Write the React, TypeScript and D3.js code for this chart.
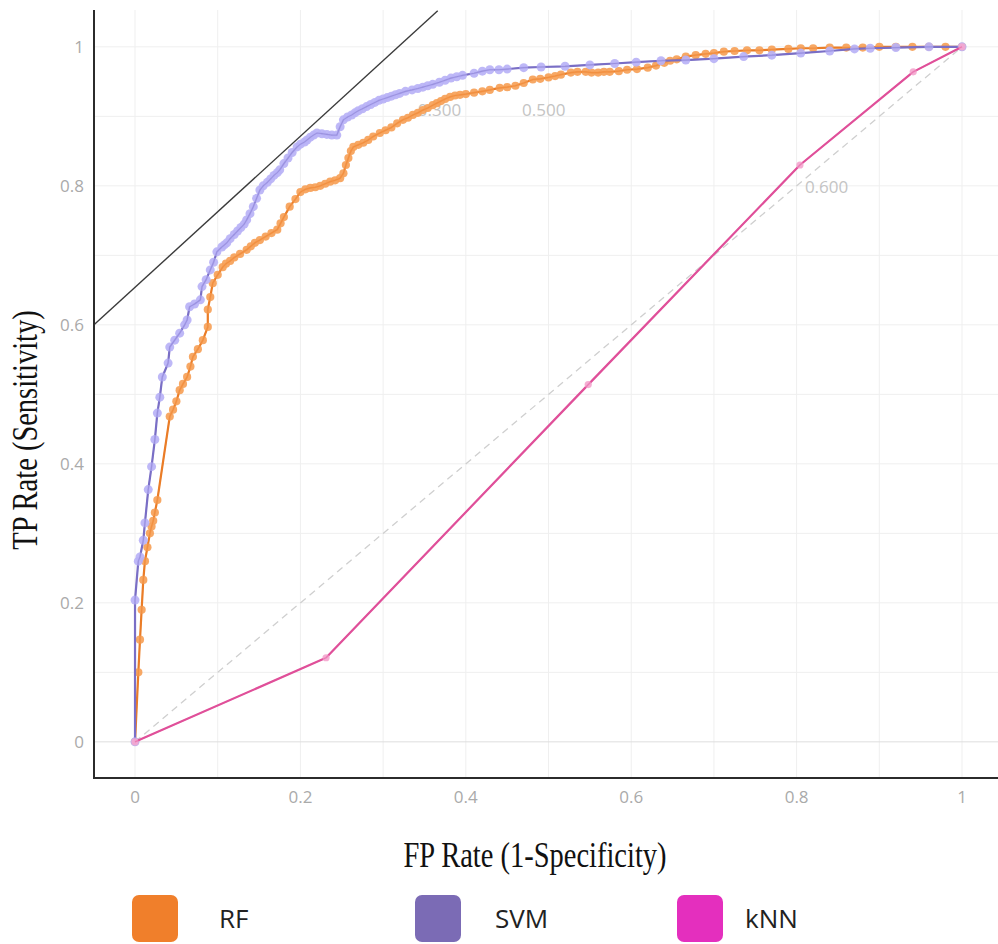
import React from "react";
import * as d3 from "d3";

// ---------- data ----------
const rfPoints: [number, number][] = [
  [0, 0], [0.004, 0.1], [0.006, 0.147], [0.008, 0.19], [0.01, 0.233], [0.012, 0.26],
  [0.015, 0.28], [0.018, 0.3], [0.02, 0.31], [0.022, 0.318], [0.024, 0.33], [0.027, 0.348],
  [0.042, 0.468], [0.046, 0.478], [0.05, 0.49], [0.054, 0.506], [0.058, 0.515], [0.063, 0.525],
  [0.067, 0.54], [0.07, 0.554], [0.076, 0.565], [0.082, 0.578], [0.088, 0.597],
  [0.088, 0.622], [0.091, 0.64], [0.094, 0.66], [0.1, 0.672], [0.106, 0.683],
  [0.11, 0.688], [0.115, 0.692], [0.12, 0.697], [0.127, 0.702], [0.135, 0.708],
  [0.14, 0.713], [0.145, 0.718], [0.151, 0.722], [0.158, 0.727], [0.165, 0.732],
  [0.172, 0.737], [0.176, 0.746], [0.18, 0.755], [0.187, 0.77], [0.194, 0.781],
  [0.2, 0.791], [0.206, 0.795], [0.212, 0.797], [0.218, 0.798], [0.224, 0.8],
  [0.23, 0.803], [0.236, 0.806], [0.242, 0.808], [0.248, 0.811], [0.252, 0.818],
  [0.255, 0.83], [0.258, 0.84], [0.261, 0.85], [0.264, 0.856], [0.27, 0.859],
  [0.276, 0.862], [0.282, 0.866], [0.288, 0.871], [0.296, 0.876], [0.303, 0.88],
  [0.31, 0.884], [0.317, 0.89], [0.324, 0.895], [0.33, 0.898], [0.336, 0.902],
  [0.342, 0.905], [0.348, 0.909], [0.354, 0.912], [0.36, 0.916], [0.365, 0.919],
  [0.37, 0.922], [0.375, 0.925], [0.381, 0.928], [0.387, 0.93], [0.393, 0.931],
  [0.4, 0.932], [0.41, 0.934], [0.42, 0.936], [0.429, 0.938], [0.441, 0.941],
  [0.45, 0.942], [0.46, 0.944], [0.47, 0.948], [0.481, 0.953], [0.49, 0.954],
  [0.5, 0.956], [0.508, 0.958], [0.515, 0.96], [0.527, 0.963], [0.535, 0.964],
  [0.545, 0.964], [0.552, 0.963], [0.56, 0.963], [0.567, 0.964], [0.574, 0.964],
  [0.585, 0.965], [0.595, 0.967], [0.607, 0.968], [0.62, 0.97], [0.63, 0.973],
  [0.64, 0.977], [0.647, 0.98], [0.655, 0.982], [0.666, 0.986], [0.678, 0.988],
  [0.69, 0.99], [0.7, 0.991], [0.712, 0.993], [0.725, 0.994], [0.74, 0.995],
  [0.755, 0.995], [0.77, 0.996], [0.79, 0.997], [0.805, 0.998], [0.82, 0.998],
  [0.84, 0.999], [0.86, 0.999], [0.88, 0.999], [0.9, 1], [0.92, 1], [0.94, 1],
  [0.96, 1], [0.98, 1], [1, 1],
];

const svmPoints: [number, number][] = [
  [0, 0], [0, 0.204], [0.004, 0.26], [0.006, 0.266], [0.01, 0.29], [0.012, 0.315],
  [0.016, 0.363], [0.02, 0.396], [0.024, 0.435], [0.027, 0.473], [0.03, 0.496],
  [0.033, 0.525], [0.04, 0.545], [0.042, 0.568], [0.048, 0.578], [0.054, 0.588],
  [0.06, 0.6], [0.063, 0.607], [0.066, 0.626], [0.072, 0.63], [0.079, 0.636],
  [0.081, 0.655], [0.086, 0.665], [0.091, 0.679], [0.095, 0.69], [0.099, 0.705],
  [0.105, 0.712], [0.108, 0.715], [0.111, 0.718], [0.115, 0.724], [0.12, 0.73],
  [0.124, 0.735], [0.128, 0.74], [0.132, 0.745], [0.135, 0.751], [0.139, 0.76],
  [0.143, 0.77], [0.147, 0.782], [0.151, 0.794], [0.155, 0.8], [0.16, 0.805],
  [0.164, 0.81], [0.168, 0.815], [0.172, 0.819], [0.175, 0.823], [0.18, 0.832],
  [0.185, 0.84], [0.19, 0.848], [0.196, 0.856], [0.2, 0.86], [0.205, 0.863],
  [0.208, 0.866], [0.212, 0.87], [0.216, 0.873], [0.22, 0.876], [0.226, 0.875],
  [0.232, 0.874], [0.238, 0.873], [0.244, 0.873], [0.248, 0.885], [0.252, 0.895],
  [0.257, 0.899], [0.262, 0.902], [0.266, 0.905], [0.27, 0.908], [0.275, 0.911],
  [0.28, 0.914], [0.285, 0.917], [0.29, 0.92], [0.295, 0.923], [0.3, 0.925],
  [0.305, 0.927], [0.31, 0.929], [0.315, 0.931], [0.32, 0.933], [0.327, 0.936],
  [0.335, 0.938], [0.342, 0.94], [0.348, 0.942], [0.354, 0.944], [0.36, 0.946],
  [0.368, 0.949], [0.375, 0.952], [0.382, 0.955], [0.389, 0.957], [0.396, 0.959],
  [0.41, 0.962], [0.42, 0.965], [0.429, 0.967], [0.44, 0.967], [0.45, 0.968],
  [0.47, 0.97], [0.491, 0.971], [0.52, 0.972], [0.55, 0.974], [0.58, 0.976],
  [0.606, 0.978], [0.636, 0.98], [0.666, 0.981], [0.7, 0.983], [0.736, 0.986],
  [0.77, 0.988], [0.805, 0.991], [0.84, 0.994], [0.87, 0.997], [0.889, 0.998],
  [0.92, 0.999], [0.96, 1], [1, 1],
];

const knnPoints: [number, number][] = [
  [0, 0], [0.231, 0.121], [0.548, 0.514], [0.804, 0.83], [0.941, 0.964], [1, 1],
];

const tangentLine: [number, number][] = [[-0.0496, 0.6], [0.366, 1.052]];
const diagonalLine: [number, number][] = [[0, 0], [1, 1]];

const thresholdLabels = ["0.300", "0.500", "0.600"];
const thresholdPos: [number, number][] = [[0.342, 0.91], [0.468, 0.91], [0.81, 0.8]];

const xTicks = [0, 0.2, 0.4, 0.6, 0.8, 1];
const yTicks = [0, 0.2, 0.4, 0.6, 0.8, 1];
const gridValues = d3.range(0, 11).map((i) => i / 10);

const seriesNames = ["RF", "SVM", "kNN"];
const legendColors = ["#f07f2b", "#7b6bb5", "#e42fbe"];

// ---------- layout ----------
const W = 998;
const H = 944;

export default function App() {
  const x = d3.scaleLinear().domain([-0.0496, 1.0435]).range([94, 998]);
  const y = d3.scaleLinear().domain([-0.052, 1.053]).range([778, 10]);
  const line = d3
    .line<[number, number]>()
    .x((d) => x(d[0]))
    .y((d) => y(d[1]));

  const series = [
    { pts: rfPoints, line: "#ea7d27", marker: "#f6a158", r: 4.1 },
    { pts: svmPoints, line: "#7a6fc6", marker: "#b9b2f6", r: 4.5 },
    { pts: knnPoints, line: "#e0509a", marker: "#f4a7cf", r: 3.6 },
  ];

  const tickFont = "'Open Sans', sans-serif";

  return (
    <svg
      width={W}
      height={H}
      style={{ position: "absolute", left: 0, top: 0, background: "#fff" }}
    >
      {/* grid */}
      {gridValues.map((g) => (
        <line key={"gx" + g} x1={x(g)} x2={x(g)} y1={10} y2={778} stroke="#efefef" strokeWidth={1} />
      ))}
      {gridValues.map((g) => (
        <line key={"gy" + g} x1={94} x2={998} y1={y(g)} y2={y(g)} stroke={g === 0 ? "#dedede" : "#efefef"} strokeWidth={1} />
      ))}

      {/* diagonal */}
      <path d={line(diagonalLine) || ""} stroke="#cfcfcf" strokeWidth={1.3} strokeDasharray="7,5" fill="none" />

      {/* threshold labels */}
      {thresholdLabels.map((t, i) => (
        <text
          key={t}
          x={x(thresholdPos[i][0])}
          y={y(thresholdPos[i][1]) + 7}
          fontFamily={tickFont}
          fontSize={17}
          fill="#c4c4c4"
        >
          {t}
        </text>
      ))}

      {/* curves */}
      {series.map((s, i) => (
        <g key={"s" + i}>
          <path d={line(s.pts) || ""} stroke={s.line} strokeWidth={2.2} fill="none" strokeLinejoin="round" />
          {s.pts.map((p, j) => (
            <circle key={j} cx={x(p[0])} cy={y(p[1])} r={s.r} fill={s.marker} opacity={0.92} />
          ))}
          <path d={line(s.pts) || ""} stroke={s.line} strokeWidth={1.2} fill="none" opacity={0.45} />
        </g>
      ))}

      {/* tangent */}
      <path d={line(tangentLine) || ""} stroke="#3a3a3a" strokeWidth={1.4} fill="none" />

      {/* axes */}
      <line x1={94} x2={94} y1={10} y2={779} stroke="#2b2b2b" strokeWidth={2} />
      <line x1={93} x2={998} y1={778} y2={778} stroke="#2b2b2b" strokeWidth={2} />

      {/* tick labels */}
      {xTicks.map((t) => (
        <text key={"xt" + t} x={x(t)} y={803} textAnchor="middle" fontFamily={tickFont} fontSize={17} fill="#aaaaaa">
          {d3.format("~g")(t)}
        </text>
      ))}
      {yTicks.map((t) => (
        <text key={"yt" + t} x={84} y={y(t) + 6} textAnchor="end" fontFamily={tickFont} fontSize={17} fill="#aaaaaa">
          {d3.format("~g")(t)}
        </text>
      ))}

      {/* axis titles */}
      <text
        transform={`translate(535,867) scale(1,1.22)`}
        textAnchor="middle"
        fontFamily="'Liberation Serif', 'Times New Roman', serif"
        fontSize={28.5}
        fill="#111"
      >
        FP Rate (1-Specificity)
      </text>
      <text
        transform={`translate(37,430) rotate(-90) scale(1,1.22)`}
        textAnchor="middle"
        fontFamily="'Liberation Serif', 'Times New Roman', serif"
        fontSize={28.5}
        fill="#111"
      >
        TP Rate (Sensitivity)
      </text>

      {/* legend */}
      {seriesNames.map((n, i) => {
        const lx = [132, 415, 677][i];
        const tx = [219, 495, 745][i];
        return (
          <g key={"lg" + n}>
            <rect x={lx} y={895} width={46} height={47} rx={7} fill={legendColors[i]} />
            <text x={tx} y={928} fontFamily={tickFont} fontSize={26} fill="#222">
              {n}
            </text>
          </g>
        );
      })}
    </svg>
  );
}
